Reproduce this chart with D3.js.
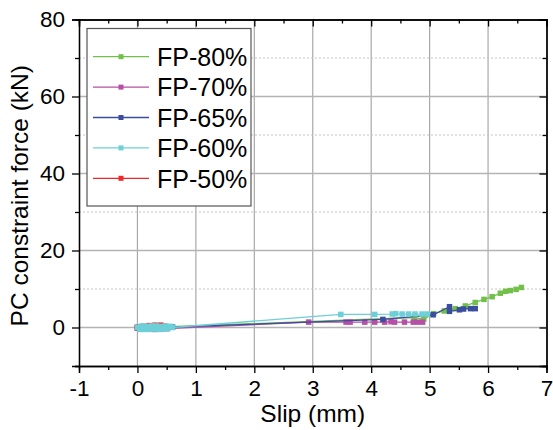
<!DOCTYPE html>
<html>
<head>
<meta charset="utf-8">
<script src="https://cdn.jsdelivr.net/npm/d3@7"></script>
<style>
  html, body { margin: 0; padding: 0; background: #fff; }
  svg { display: block; font-family: "Liberation Sans", Arial, sans-serif; }
</style>
</head>
<body>
<svg id="chart" width="553" height="430"></svg>
<script>
// Slip (mm) vs PC constraint force (kN) for each FP ratio
const seriesNames = ["FP-80%", "FP-70%", "FP-65%", "FP-60%", "FP-50%"];
const seriesColors = ["#72c04a", "#b550a6", "#3a4d9e", "#6dcfd8", "#f0272a"];

const fp80 = [[0,0],[0.1,0.1],[0.2,0.0],[0.3,0.1],[0.4,0.0],[0.55,0.2],
  [4.74,2.6],[4.90,2.2],[5.07,3.6],[5.25,4.3],[5.44,4.9],[5.61,5.6],[5.78,6.5],
  [5.93,7.3],[6.07,8.0],[6.21,8.9],[6.30,9.4],[6.38,9.6],[6.48,9.9],[6.57,10.4]];
const fp70 = [[0,-0.2],[0.1,-0.4],[0.2,-0.3],[0.3,-0.5],[0.4,-0.4],[0.5,-0.3],
  [2.93,1.4],[3.57,1.4],[3.64,1.4],[3.89,1.4],[4.06,1.4],[4.23,1.4],[4.34,1.5],
  [4.40,1.4],[4.57,1.4],[4.72,1.4],[4.80,1.4],[4.88,1.4]];
const fp65 = [[0,0],[0.1,-0.2],[0.2,0.0],[0.3,-0.2],[0.45,0.0],[0.6,0.1],
  [4.20,2.1],[5.06,3.3],[5.34,5.4],[5.34,4.2],[5.51,4.6],[5.58,4.8],[5.70,4.9],[5.78,4.9]];
const fp60 = [[0,0],[0.04,-0.5],[0.08,0.4],[0.12,-0.5],[0.16,0.3],[0.2,-0.5],[0.24,0.4],
  [0.28,-0.4],[0.32,0.4],[0.36,-0.5],[0.4,0.3],[0.44,-0.4],[0.48,0.4],[0.52,-0.3],
  [0.56,0.3],[0.6,0.0],
  [3.48,3.4],[4.06,3.4],[4.36,3.5],[4.42,3.6],[4.53,3.5],[4.64,3.5],[4.75,3.5],[4.87,3.5],[4.96,3.5]];
const fp50 = [[0,0],[0.1,0.3],[0.2,0.5],[0.3,0.6],[0.4,0.6],[0.45,0.4],[0.5,0.2]];
const seriesValues = [fp80, fp70, fp65, fp60, fp50];
// FP-50% sits underneath FP-60% near the origin
const drawOrder = [0, 1, 2, 4, 3];

const xTicks = [-1, 0, 1, 2, 3, 4, 5, 6, 7];
const xMinor = [-0.5, 0.5, 1.5, 2.5, 3.5, 4.5, 5.5, 6.5];
const yTicks = [0, 20, 40, 60, 80];
const yMinor = [-10, 10, 30, 50, 70];

const W = 553, H = 430;
const margin = { left: 79, right: 6.5, top: 19.5, bottom: 64 };
const x = d3.scaleLinear().domain([-1, 7]).range([margin.left, W - margin.right]);
const y = d3.scaleLinear().domain([-10, 80]).range([H - margin.bottom, margin.top]);

const svg = d3.select("#chart");
const fmt = d => String(d);

// grid
const grid = svg.append("g");
grid.selectAll("line.vg").data(xTicks.filter(d => d > -1 && d < 7)).join("line")
  .attr("x1", d => x(d)).attr("x2", d => x(d))
  .attr("y1", y(-10)).attr("y2", y(80))
  .attr("stroke", "#a8a8a8").attr("stroke-width", 1.2);
grid.selectAll("line.hg").data(yTicks.filter(d => d < 80)).join("line")
  .attr("x1", x(-1)).attr("x2", x(7))
  .attr("y1", d => y(d)).attr("y2", d => y(d))
  .attr("stroke", "#b4b4b4").attr("stroke-width", 1.4);
grid.selectAll("line.hm").data(yMinor.filter(d => d > -10)).join("line")
  .attr("x1", x(-1)).attr("x2", x(7))
  .attr("y1", d => y(d)).attr("y2", d => y(d))
  .attr("stroke", "#c4c4c4").attr("stroke-width", 1).attr("stroke-dasharray", "2,2");

// axes: bottom/left with outward ticks and labels, top/right with inward ticks
function styleAxis(g) {
  g.select(".domain").attr("stroke", "#000").attr("stroke-width", 1.3);
  g.selectAll(".tick line").attr("stroke", "#000").attr("stroke-width", 1.3);
  g.selectAll("text").attr("fill", "#000").attr("font-size", "22.5px")
    .attr("font-family", "'Liberation Sans', Arial, sans-serif");
}
svg.append("g").attr("transform", `translate(0,${y(-10)})`)
  .call(d3.axisBottom(x).tickValues(xTicks).tickFormat(fmt).tickSizeOuter(0).tickSize(7).tickPadding(7))
  .call(styleAxis);
svg.append("g").attr("transform", `translate(0,${y(-10)})`)
  .call(d3.axisBottom(x).tickValues(xMinor).tickFormat("").tickSizeOuter(0).tickSize(4))
  .call(styleAxis);

svg.append("g").attr("transform", `translate(${x(-1)},0)`)
  .call(d3.axisLeft(y).tickValues(yTicks).tickFormat(fmt).tickSizeOuter(0).tickSize(7).tickPadding(7))
  .call(styleAxis);
svg.append("g").attr("transform", `translate(${x(-1)},0)`)
  .call(d3.axisLeft(y).tickValues(yMinor).tickFormat("").tickSizeOuter(0).tickSize(4))
  .call(styleAxis);

svg.append("g").attr("transform", `translate(0,${y(80)})`)
  .call(d3.axisBottom(x).tickValues(xTicks).tickFormat("").tickSizeOuter(0).tickSize(7))
  .call(styleAxis);
svg.append("g").attr("transform", `translate(0,${y(80)})`)
  .call(d3.axisBottom(x).tickValues(xMinor).tickFormat("").tickSizeOuter(0).tickSize(4))
  .call(styleAxis);
svg.append("g").attr("transform", `translate(${x(7)},0)`)
  .call(d3.axisLeft(y).tickValues(yTicks).tickFormat("").tickSizeOuter(0).tickSize(7))
  .call(styleAxis);
svg.append("g").attr("transform", `translate(${x(7)},0)`)
  .call(d3.axisLeft(y).tickValues(yMinor).tickFormat("").tickSizeOuter(0).tickSize(4))
  .call(styleAxis);

// axis titles
svg.append("text").attr("x", (x(-1) + x(7)) / 2).attr("y", 422)
  .attr("text-anchor", "middle").attr("font-size", "24.5px").text("Slip (mm)");
svg.append("text").attr("transform", `translate(28,${(y(-10) + y(80)) / 2 + 3}) rotate(-90)`)
  .attr("text-anchor", "middle").attr("font-size", "24.5px").text("PC constraint force (kN)");

// series
const line = d3.line().x(d => x(d[0])).y(d => y(d[1]));
const ms = 5.5;
drawOrder.forEach(i => {
  const vals = seriesValues[i];
  const g = svg.append("g");
  g.append("path").datum(vals).attr("d", line)
    .attr("fill", "none").attr("stroke", seriesColors[i]).attr("stroke-width", 1.3);
  g.selectAll("rect").data(vals).join("rect")
    .attr("x", d => x(d[0]) - ms / 2).attr("y", d => y(d[1]) - ms / 2)
    .attr("width", ms).attr("height", ms).attr("fill", seriesColors[i]);
});

// legend
const lg = svg.append("g");
lg.append("rect").attr("x", 87).attr("y", 28.5).attr("width", 164).attr("height", 177.5)
  .attr("fill", "#fff").attr("stroke", "#555").attr("stroke-width", 1.2);
seriesNames.forEach((name, i) => {
  const cy = 56.7 + i * 30.4;
  lg.append("line").attr("x1", 93).attr("x2", 149).attr("y1", cy).attr("y2", cy)
    .attr("stroke", seriesColors[i]).attr("stroke-width", 1.3);
  lg.append("rect").attr("x", 121 - 2.5).attr("y", cy - 2.5)
    .attr("width", 5).attr("height", 5).attr("fill", seriesColors[i]);
  lg.append("text").attr("x", 157).attr("y", cy + 9.2).attr("font-size", "25px").text(name);
});
</script>
</body>
</html>
